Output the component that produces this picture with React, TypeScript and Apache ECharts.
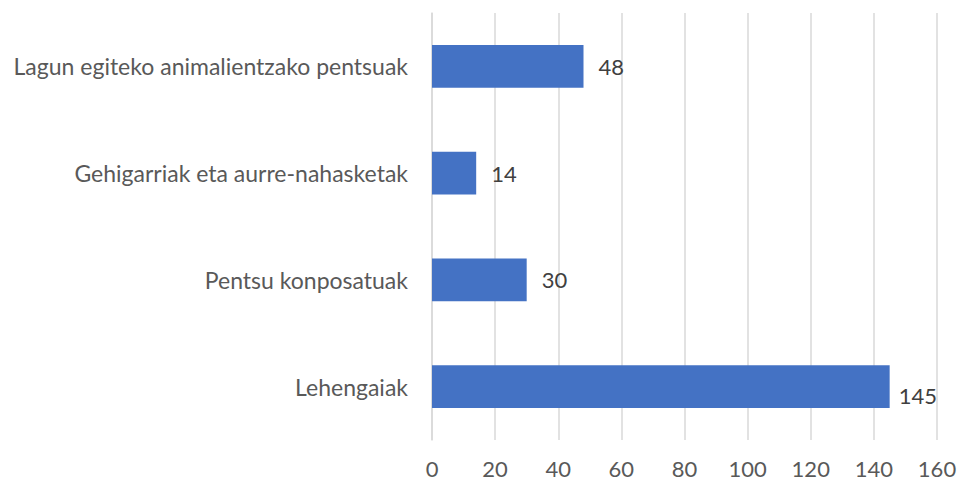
import React, { useEffect, useRef } from "react";
import * as echarts from "echarts";

const categories = [
  "Lehengaiak",
  "Pentsu konposatuak",
  "Gehigarriak eta aurre-nahasketak",
  "Lagun egiteko animalientzako pentsuak",
];
const values = [145, 30, 14, 48];
const xTicks = { min: 0, max: 160, interval: 20 };

const FONT = "Lato, 'Open Sans', sans-serif";
const TEXT = "#595959";

export default function App() {
  const ref = useRef<HTMLDivElement>(null);
  useEffect(() => {
    if (!ref.current) return;
    const chart = echarts.init(ref.current, undefined, { renderer: "svg" });
    chart.setOption({
      animation: false,
      backgroundColor: "#ffffff",
      textStyle: { fontFamily: FONT },
      grid: { left: 432, right: 23, top: 13, bottom: 42, containLabel: false },
      xAxis: {
        type: "value",
        min: xTicks.min,
        max: xTicks.max,
        interval: xTicks.interval,
        axisLine: { show: false },
        axisTick: { show: false },
        splitLine: { show: true, lineStyle: { color: "#d9d9d9", width: 1.5 } },
        axisLabel: { color: TEXT, fontSize: 22, fontFamily: FONT, margin: 17 },
      },
      yAxis: {
        type: "category",
        data: categories,
        axisLine: { show: true, lineStyle: { color: "#d9d9d9", width: 1.5 } },
        axisTick: { show: false },
        axisLabel: { color: TEXT, fontSize: 23, fontFamily: FONT, margin: 24 },
      },
      series: [
        {
          type: "bar",
          data: values.map((v, i) =>
            i === 0
              ? { value: v, label: { offset: [0, 9], distance: 9 } }
              : { value: v }
          ),
          barWidth: "40%",
          itemStyle: { color: "#4472C4" },
          label: {
            show: true,
            position: "right",
            distance: 15,
            color: "#404040",
            fontSize: 22,
            fontFamily: FONT,
          },
        },
      ],
    });
    return () => chart.dispose();
  }, []);
  return (
    <div
      ref={ref}
      style={{ position: "fixed", left: 0, top: 0, width: 960, height: 482 }}
    />
  );
}
